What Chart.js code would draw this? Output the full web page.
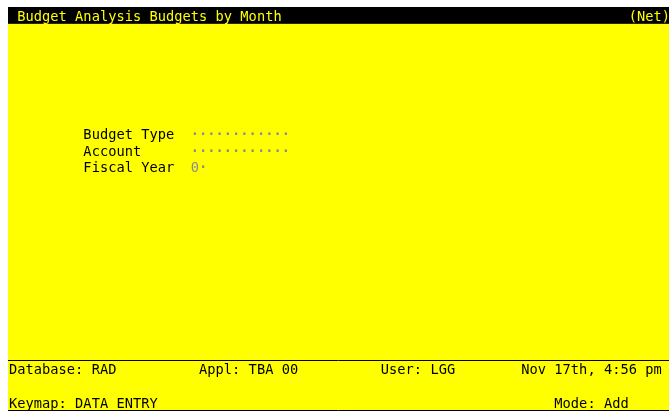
<!DOCTYPE html>
<html>
<head>
<meta charset="utf-8">
<script src="https://cdn.jsdelivr.net/npm/chart.js@4/dist/chart.umd.min.js"></script>
<style>
  html, body { margin: 0; padding: 0; background: #fff; }
  #wrap { width: 669px; height: 414px; }
</style>
</head>
<body>
<div id="wrap"><canvas id="screenChart" width="669" height="414"></canvas></div>
<script>
// screen text, placed on a 80 x 24 character grid (col, row)
const titleText = 'Budget Analysis Budgets by Month';
const titleMode = '(Net)';

const fieldLabels = ['Budget Type', 'Account', 'Fiscal Year'];
const fieldValues = ['\u00b7\u00b7\u00b7\u00b7\u00b7\u00b7\u00b7\u00b7\u00b7\u00b7\u00b7\u00b7', '\u00b7\u00b7\u00b7\u00b7\u00b7\u00b7\u00b7\u00b7\u00b7\u00b7\u00b7\u00b7', '0\u00b7'];
const fieldRows = [7, 8, 9];

const statusTexts = ['Database: RAD', 'Appl: TBA 00', 'User: LGG', 'Nov 17th, 4:56 pm'];
const statusCols = [0, 23, 45, 62];

const footerTexts = ['Keymap: DATA ENTRY', 'Mode: Add'];
const footerCols = [0, 66];

const COLS = 80, ROWS = 24;
const FONT = '13.7px "DejaVu Sans Mono", "Liberation Mono", monospace';

const screenPlugin = {
    id: 'screen',
    beforeDraw(chart) {
        const { ctx, chartArea: a, scales: { x, y } } = chart;
        ctx.save();
        // yellow form background
        ctx.fillStyle = '#ffff00';
        ctx.fillRect(a.left, a.top, a.right - a.left, a.bottom - a.top);
        // black title bar (row 0)
        ctx.fillStyle = '#000';
        ctx.fillRect(a.left, y.getPixelForValue(0), a.right - a.left, y.getPixelForValue(1) - y.getPixelForValue(0));
        // separator lines
        ctx.strokeStyle = '#000';
        ctx.lineWidth = 1;
        [21, 24].forEach(r => {
            const py = Math.round(y.getPixelForValue(r)) - 0.5;
            ctx.beginPath();
            ctx.moveTo(a.left, py);
            ctx.lineTo(a.right, py);
            ctx.stroke();
        });
        ctx.restore();
    },
    afterDraw(chart) {
        const { ctx, scales: { x, y } } = chart;
        ctx.save();
        ctx.textBaseline = 'middle';
        ctx.textAlign = 'center';
        const put = (txt, col, row, color) => {
            ctx.fillStyle = color;
            // one glyph per cell so the grid stays exact
            for (let i = 0; i < txt.length; i++) {
                const cx = (x.getPixelForValue(col + i) + x.getPixelForValue(col + i + 1)) / 2 + 1;
                ctx.font = (txt[i] === '\u00b7' ? 'bold ' : '') + FONT;
                ctx.fillText(txt[i], cx, y.getPixelForValue(row + 0.5) + 2);
            }
        };
        put(titleText, 1, 0, '#ffff00');
        put(titleMode, COLS - titleMode.length, 0, '#ffff00');
        fieldLabels.forEach((l, i) => {
            put(l, 9, fieldRows[i], '#000');
            put(fieldValues[i], 22, fieldRows[i], '#8c8c8c');
        });
        statusTexts.forEach((t, i) => put(t, statusCols[i], 21, '#000'));
        footerTexts.forEach((t, i) => put(t, footerCols[i], 23, '#000'));
        ctx.restore();
    }
};

new Chart(document.getElementById('screenChart').getContext('2d'), {
    type: 'scatter',
    data: { datasets: [{ data: [] }] },
    options: {
        responsive: false,
        animation: false,
        layout: { padding: { left: 8, top: 7, right: 0, bottom: 3 } },
        plugins: { legend: { display: false }, tooltip: { enabled: false } },
        scales: {
            x: { display: false, min: 0, max: COLS },
            y: { display: false, min: 0, max: ROWS, reverse: true }
        }
    },
    plugins: [screenPlugin]
});
</script>
</body>
</html>
